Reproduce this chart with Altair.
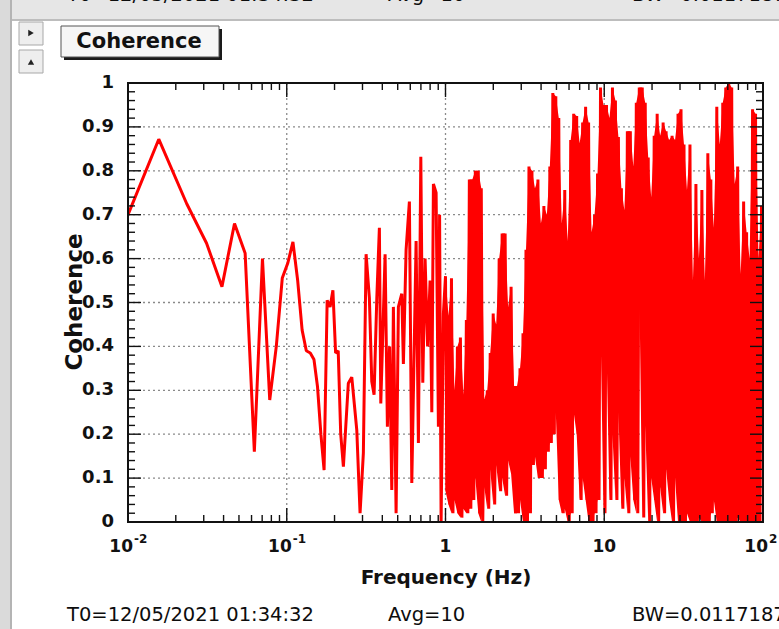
import numpy as np
import pandas as pd
import altair as alt

# ---------------------------------------------------------------- data
# Coherence below 1 Hz, one value per frequency bin
lf_freq = [0.0078125, 0.015625, 0.0234375, 0.03125, 0.0390625, 0.046875, 0.0546875,
           0.0625, 0.0703125, 0.078125, 0.0859375, 0.09375, 0.1015625, 0.109375,
           0.1171875, 0.125, 0.1328125, 0.140625, 0.1484375, 0.15625, 0.1640625,
           0.171875, 0.1796875, 0.1875, 0.1953125, 0.203125, 0.2109375, 0.21875,
           0.2274, 0.2443, 0.2568, 0.2761, 0.2896, 0.3038, 0.3161, 0.3315, 0.3432,
           0.3549, 0.3692, 0.3833, 0.3912, 0.4164, 0.4305, 0.4445, 0.4588, 0.4696,
           0.4884, 0.5050, 0.5304, 0.5429, 0.5646, 0.5923, 0.6133, 0.6528, 0.6750,
           0.6990, 0.7194, 0.7438, 0.7713, 0.7998, 0.8199, 0.8392, 0.8727, 0.9022,
           0.9179, 0.9382, 0.9701]
lf_coh = [0.605, 0.872, 0.725, 0.635, 0.536, 0.680, 0.612,
          0.160, 0.600, 0.278, 0.400, 0.556, 0.590, 0.638,
          0.550, 0.437, 0.390, 0.385, 0.370, 0.308, 0.200,
          0.118, 0.505, 0.490, 0.528, 0.385, 0.390, 0.200,
          0.126, 0.316, 0.330, 0.210, 0.020, 0.157, 0.610, 0.510, 0.320,
          0.290, 0.510, 0.670, 0.270, 0.610, 0.217, 0.400, 0.073, 0.490,
          0.020, 0.490, 0.520, 0.360, 0.620, 0.730, 0.089, 0.640, 0.180,
          0.832, 0.317, 0.600, 0.400, 0.550, 0.250, 0.770, 0.750, 0.217,
          0.700, 0.000, 0.475]

# 1-100 Hz: the trace is dense here; maxima and minima per display column
hf_peak = [0.56, 0.47, 0.555, 0.30, 0.40, 0.42, 0.29, 0.46, 0.78, 0.78, 0.80, 0.80, 0.76,
           0.28, 0.30, 0.385, 0.475, 0.45, 0.60, 0.657, 0.657, 0.49, 0.536, 0.31, 0.31,
           0.35, 0.43,
           0.62, 0.81, 0.80, 0.76, 0.78, 0.68, 0.72, 0.70, 0.81, 0.977, 0.97, 0.92, 0.68,
           0.756, 0.64, 0.87, 0.93, 0.925, 0.863, 0.91, 0.946, 0.91, 0.66, 0.70, 0.794,
           0.99, 0.95, 0.95, 0.92, 0.99, 0.96, 0.877, 0.76, 0.71, 0.89, 0.89, 0.81, 0.955,
           0.99, 0.99, 0.955, 0.83, 0.74, 0.88, 0.93, 0.88, 0.91, 0.89, 0.87, 0.88, 0.87,
           0.93,
           0.94, 0.86, 0.756, 0.86, 0.55, 0.77, 0.60, 0.756, 0.55, 0.84, 0.78, 0.67, 0.946,
           0.86, 0.955, 0.99, 1.0, 0.99, 0.77, 0.81, 0.565, 0.73, 0.66, 0.60, 0.94, 0.93,
           0.60, 0.72]
hf_trough = [0.07, 0.04, 0.02, 0.05, 0.02, 0.01, 0.03, 0.02, 0.03, 0.05, 0.10, 0.02, 0.0,
             0.08, 0.03, 0.12, 0.04, 0.13, 0.07, 0.10, 0.06, 0.14, 0.11, 0.02, 0.02,
             0.05, 0.0,
             0.0, 0.02, 0.13, 0.15, 0.10, 0.10, 0.12, 0.16, 0.18, 0.20, 0.25, 0.05, 0.02,
             0.03, 0.0, 0.02, 0.25, 0.20, 0.05, 0.10, 0.05, 0.0, 0.0, 0.02, 0.05,
             0.45, 0.02, 0.40, 0.05, 0.20, 0.05, 0.25, 0.03, 0.10, 0.02, 0.15, 0.05, 0.02,
             0.55, 0.01, 0.22, 0.0, 0.10, 0.05, 0.0, 0.08, 0.02, 0.12, 0.05, 0.0, 0.10,
             0.0,
             0.0, 0.0, 0.02, 0.0, 0.0, 0.0, 0.01, 0.0, 0.0, 0.0, 0.02, 0.05, 0.0,
             0.0, 0.0, 0.0, 0.0, 0.0, 0.0, 0.01, 0.0, 0.0, 0.0, 0.0, 0.0, 0.0,
             0.0, 0.58]
BAND_FROM = 1.0   # above this the trace fills its column envelope

# axis ticks and labels
y_major = [0.0, 0.1, 0.2, 0.3, 0.4, 0.5, 0.6, 0.7, 0.8, 0.9, 1.0]
y_labels = ["0", "0.1", "0.2", "0.3", "0.4", "0.5", "0.6", "0.7", "0.8", "0.9", "1"]
y_minor = [round(v, 2) for v in np.arange(0.0, 1.0001, 0.02) if round(v * 10, 6) % 1 != 0]
x_major = [0.01, 0.1, 1.0, 10.0, 100.0]
x_base = ["10", "10", "1", "10", "10"]
x_exp = ["-2", "-1", "", "", "2"]
x_minor = [m * d for d in (0.01, 0.1, 1.0, 10.0) for m in range(2, 10)]
y_grid = [0.1, 0.2, 0.3, 0.4, 0.5, 0.6, 0.7, 0.8, 0.9]
x_grid = [0.1, 1.0, 10.0]

info = ["T0=12/05/2021 01:34:32", "Avg=10", "BW=0.0117187"]
info_x = [67, 388, 632]

# ---------------------------------------------------------------- layout
W, H = 635, 439          # plot frame
L, T = 128, 83           # frame offset in the window
FONT = "DejaVu Sans"
RED = "#ff0000"

hf_freq = np.geomspace(1.0, 100.0, 2 * len(hf_peak))
hf_coh = np.column_stack([hf_peak, hf_trough]).ravel()
trace = pd.DataFrame({"f": list(lf_freq) + list(hf_freq),
                      "c": list(lf_coh) + list(hf_coh)})
trace["i"] = np.arange(len(trace))
envelope = pd.DataFrame({"f": hf_freq[0::2], "lo": hf_trough, "hi": hf_peak})
envelope = envelope[envelope["f"] >= BAND_FROM]

xs = alt.Scale(type="log", domain=[0.01, 100], nice=False)
ys = alt.Scale(domain=[0, 1], nice=False, zero=False)


def X(field):
    return alt.X(f"{field}:Q", scale=xs, axis=None)


def Y(field):
    return alt.Y(f"{field}:Q", scale=ys, axis=None)


def one():
    return pd.DataFrame({"k": [0]})


def rect(x0, y0, x1, y1, fill, stroke=None, sw=0):
    kw = dict(fill=fill)
    if stroke:
        kw.update(stroke=stroke, strokeWidth=sw)
    else:
        kw.update(strokeWidth=0)
    return alt.Chart(one()).mark_rect(**kw).encode(
        x=alt.value(x0 - L), x2=alt.value(x1 - L),
        y=alt.value(y0 - T), y2=alt.value(y1 - T))


def label(txt, x, y, size, weight="normal", align="left", angle=0, color="#111"):
    kw = dict(font=FONT, fontSize=size, fontWeight=weight, align=align,
              baseline="middle", color=color)
    if angle:
        kw["angle"] = angle
    return alt.Chart(one()).mark_text(**kw).encode(
        x=alt.value(x - L), y=alt.value(y - T), text=alt.value(txt))


# ---------------------------------------------------------------- window chrome
chrome = [
    rect(0, 0, 779, 19, "#e6e6e6"),
    rect(0, 19, 779, 21, "#bdbdbd"),
    rect(0, 0, 10, 629, "#dadada"),
    rect(10, 0, 12, 629, "#b4b4b4"),
    rect(19, 22, 43, 45, "#eeeeee", "#a8a8a8", 1),
    rect(19, 50, 43, 73, "#eeeeee", "#a8a8a8", 1),
    rect(64, 29, 222, 60, "#1a1a1a"),
    rect(61, 26, 219, 57, "#f6f6f6", "#555555", 1),
]
arrows = [
    alt.Chart(one()).mark_point(shape="triangle-right", filled=True, size=40, color="#222",
                                opacity=1).encode(x=alt.value(31 - L), y=alt.value(33 - T)),
    alt.Chart(one()).mark_point(shape="triangle-up", filled=True, size=40, color="#222",
                                opacity=1).encode(x=alt.value(31 - L), y=alt.value(62 - T)),
]
texts = [label("Coherence", 139, 42, 21, "bold", "center")]
for s, x in zip(info, info_x):
    texts.append(label(s, x, 615, 19.5, "normal", "left", color="#0d0d0d"))
    texts.append(label(s, x, -5, 19.5, "normal", "left", color="#0d0d0d"))

# ---------------------------------------------------------------- plot frame
canvas = alt.Chart(one()).mark_rect(fill="white", strokeWidth=0).encode(
    x=alt.value(0), x2=alt.value(W), y=alt.value(0), y2=alt.value(H))

grid_style = dict(color="#8a8a8a", strokeWidth=1.3, strokeDash=[2, 3])
ygrid = alt.Chart(pd.DataFrame({"v": y_grid})).mark_rule(**grid_style).encode(
    y=Y("v"), x=alt.value(0), x2=alt.value(W))
xgrid = alt.Chart(pd.DataFrame({"v": x_grid})).mark_rule(**grid_style).encode(
    x=X("v"), y=alt.value(0), y2=alt.value(H))

band = alt.Chart(envelope).mark_area(color=RED, opacity=1, clip=True).encode(
    x=X("f"), y=Y("lo"), y2="hi:Q")
line = alt.Chart(trace).mark_line(color=RED, strokeWidth=3, clip=True,
                                  strokeJoin="bevel").encode(
    x=X("f"), y=Y("c"), order="i:Q")


def yticks(vals, n):
    d = pd.DataFrame({"v": vals})
    tick = dict(color="#111", strokeWidth=1.4)
    return [
        alt.Chart(d).mark_rule(**tick).encode(y=Y("v"), x=alt.value(0), x2=alt.value(n)),
        alt.Chart(d).mark_rule(**tick).encode(y=Y("v"), x=alt.value(W - n), x2=alt.value(W)),
    ]


def xticks(vals, n):
    d = pd.DataFrame({"v": vals})
    tick = dict(color="#111", strokeWidth=1.4)
    return [
        alt.Chart(d).mark_rule(**tick).encode(x=X("v"), y=alt.value(H), y2=alt.value(H - n)),
        alt.Chart(d).mark_rule(**tick).encode(x=X("v"), y=alt.value(0), y2=alt.value(n)),
    ]


ticks = yticks(y_major, 13) + yticks(y_minor, 7) + xticks(x_major, 14) + xticks(x_minor, 7)

frame = alt.Chart(one()).mark_rect(fill=None, stroke="#111", strokeWidth=2).encode(
    x=alt.value(0), x2=alt.value(W), y=alt.value(0), y2=alt.value(H))

ylab = alt.Chart(pd.DataFrame({"v": y_major, "t": y_labels})).mark_text(
    font=FONT, fontSize=18, fontWeight="bold", align="right", baseline="middle",
    color="#111").encode(y=Y("v"), x=alt.value(-14), text="t:N")
xdf = pd.DataFrame({"v": x_major, "b": x_base, "e": x_exp})
xlab_base = alt.Chart(xdf).transform_filter("datum.e != ''").mark_text(
    font=FONT, fontSize=17, fontWeight="bold", align="right", baseline="middle",
    color="#111", dx=5).encode(x=X("v"), y=alt.value(H + 25), text="b:N")
xlab_plain = alt.Chart(xdf).transform_filter("datum.e == ''").mark_text(
    font=FONT, fontSize=17, fontWeight="bold", align="center", baseline="middle",
    color="#111").encode(x=X("v"), y=alt.value(H + 25), text="b:N")
xlab_exp = alt.Chart(xdf).transform_filter("datum.e != ''").mark_text(
    font=FONT, fontSize=12, fontWeight="bold", align="left", baseline="middle",
    color="#111", dx=6).encode(x=X("v"), y=alt.value(H + 17), text="e:N")

titles = [
    label("Coherence", 75, 302, 23, "bold", "center", angle=270),
    label("Frequency (Hz)", 446, 578, 20, "bold", "center"),
]

chart = alt.layer(
    *chrome, *arrows, canvas, ygrid, xgrid, band, line, *ticks, frame,
    ylab, xlab_base, xlab_plain, xlab_exp, *titles, *texts,
).properties(
    width=W, height=H,
    padding={"left": L, "top": T, "right": 779 - L - W, "bottom": 629 - T - H},
    autosize=alt.AutoSizeParams(type="none"),
    background="white",
).configure_view(stroke=None)

chart.save("out.html", embed_options={"renderer": "svg", "actions": False})
